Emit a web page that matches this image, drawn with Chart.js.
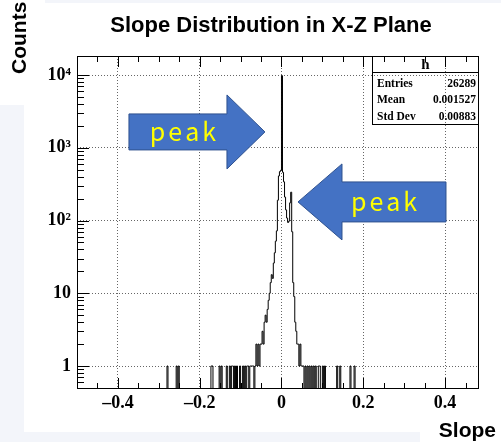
<!DOCTYPE html>
<html>
<head>
<meta charset="utf-8">
<title>Slope Distribution in X-Z Plane</title>
<script src="https://cdn.jsdelivr.net/npm/chart.js@4.4.1/dist/chart.umd.min.js"></script>
<style>
  html, body { margin: 0; padding: 0; background: #fff; }
  #wrap { position: relative; width: 501px; height: 442px; overflow: hidden; }
  .shade { position: absolute; background: #f3f5fa; }
  #c { position: absolute; left: 0; top: 0; }
</style>
</head>
<body>
<div id="wrap">
  <div class="shade" style="left:0;top:105px;width:24px;height:337px"></div>
  <div class="shade" style="left:0;top:432px;width:420px;height:10px"></div>
  <div class="shade" style="left:45px;top:0;width:456px;height:3px"></div>
  <canvas id="c" width="501" height="442"></canvas>
</div>
<script>
// histogram h: 400 bins of 0.0025 over [-0.5, 0.5]
var binWidth = 0.0025
  , binLo = -0.5
  , binHi = 0.5

// non-empty bins (bin centre, entries)
var binCenters = [
  -0.27875, -0.25625, -0.25125, -0.17125, -0.16875, -0.15125, -0.14625, -0.13375,
  -0.12625, -0.12125, -0.11875, -0.11375, -0.10875, -0.10125, -0.09375, -0.08875,
  -0.08375, -0.08125, -0.07625, -0.07375, -0.07125, -0.06875, -0.06375,
  -0.06125, -0.05875, -0.05625, -0.05375, -0.05125, -0.04875, -0.04625, -0.04375,
  -0.04125, -0.03875, -0.03625, -0.03375, -0.03125, -0.02875, -0.02625, -0.02375,
  -0.02125, -0.01875, -0.01625, -0.01375, -0.01125, -0.00875, -0.00625, -0.00375,
  -0.00125, 0.00125, 0.00375, 0.00625, 0.00875, 0.01125, 0.01375, 0.01625,
  0.01875, 0.02125, 0.02375, 0.02625, 0.02875, 0.03125, 0.03375, 0.03625,
  0.03875, 0.04125, 0.04375, 0.04625, 0.04875,
  0.05125, 0.05375, 0.05875, 0.06375, 0.06875, 0.07375, 0.07875, 0.08375,
  0.09125, 0.09375, 0.10125, 0.10625, 0.13625, 0.14375, 0.16875, 0.17875
]
var binCounts = [
  1, 1, 1, 1, 1, 1, 1, 1,
  1, 1, 1, 1, 1, 1, 1, 1,
  1, 1, 1, 1, 1, 1, 1,
  2, 1, 2, 1, 2, 2, 3, 2,
  4, 5, 4, 6, 8, 10, 14, 18,
  16, 26, 36, 52, 72, 190, 410, 470,
  490, 9800, 460, 340, 210, 140, 108, 94,
  98, 175, 245, 70, 14, 9, 4, 3,
  2, 2, 1, 2, 1,
  1, 1, 1, 1, 1, 1, 1, 1,
  1, 1, 1, 1, 1, 1, 1, 1
]

var xTicks = [-0.4, -0.2, 0, 0.2, 0.4]
var xTickLabels = ['\u20130.4', '\u20130.2', '0', '0.2', '0.4']
var yTicks = [1, 10, 100, 1000, 10000]
var yTickLabels = ['1', '10', '10\u00b2', '10\u00b3', '10\u2074']

var statNames = ['Entries', 'Mean', 'Std Dev']
var statValues = ['26289', '0.001527', '0.00883']

var xMin = -0.5, xMax = 0.483
var yMin = 0.483, yMax = 18250

// arrows pointing at the two peaks, tip given in axis units
var peakArrows = [
  { x: -0.0404, y: 1650, dir: 1, len: 136, head: 38, headHalf: 37, bodyHalf: 18, textAt: 82 },
  { x: 0.0404, y: 180, dir: -1, len: 148, head: 44, headHalf: 38, bodyHalf: 20, textAt: 86 }
]

var serif = '"Liberation Serif", "Times New Roman", serif'
var sans = '"Liberation Sans", Arial, sans-serif'

function histSteps() {
  var n = Math.round((binHi - binLo) / binWidth)
    , filled = new Array(n).fill(0)
    , pts = []
  binCenters.forEach(function (c, i) {
    filled[Math.floor((c - binLo) / binWidth)] = binCounts[i]
  })
  for (var i = 0; i < n; i++)
    pts.push({ x: binLo + i * binWidth, y: filled[i] || yMin })
  pts.push({ x: binHi, y: yMin })
  return pts
}

// centred text with extra space between letters
function spacedText(ctx, str, cx, cy, gap) {
  var widths = str.split('').map(function (ch) { return ctx.measureText(ch).width })
    , total = widths.reduce(function (s, w) { return s + w }, 0) + gap * (str.length - 1)
    , x = cx - total / 2
  ctx.textAlign = 'left'
  ctx.textBaseline = 'middle'
  for (var i = 0; i < str.length; i++) {
    ctx.fillText(str[i], x, cy)
    x += widths[i] + gap
  }
}

function drawArrow(ctx, a, tx, ty) {
  var d = a.dir
  ctx.beginPath()
  ctx.moveTo(tx - d * a.len, ty - a.bodyHalf)
  ctx.lineTo(tx - d * a.head, ty - a.bodyHalf)
  ctx.lineTo(tx - d * a.head, ty - a.headHalf)
  ctx.lineTo(tx, ty)
  ctx.lineTo(tx - d * a.head, ty + a.headHalf)
  ctx.lineTo(tx - d * a.head, ty + a.bodyHalf)
  ctx.lineTo(tx - d * a.len, ty + a.bodyHalf)
  ctx.closePath()
  ctx.fillStyle = '#4472c4'
  ctx.fill()
  ctx.strokeStyle = '#2f528f'
  ctx.lineWidth = 1
  ctx.stroke()
  ctx.fillStyle = '#ffff00'
  ctx.font = '25px "Noto Sans CJK JP", "Noto Sans", sans-serif'
  spacedText(ctx, 'peak', tx - d * a.textAt, ty, 3)
}

// frame, inner tick marks, stat box
var framePlugin = {
  id: 'frame',
  afterDatasetsDraw: function (chart) {
    var ctx = chart.ctx
      , a = chart.chartArea
      , xs = chart.scales.x
      , ys = chart.scales.y
    ctx.save()
    ctx.strokeStyle = '#000'
    ctx.lineWidth = 1
    ctx.strokeRect(a.left + .5, a.top + .5, a.right - a.left - 1, a.bottom - a.top - 1)

    ctx.beginPath()
    for (var k = -10; k <= 10; k++) {
      var v = k * 0.05
      if (v < xMin || v > xMax) continue
      var px = Math.round(xs.getPixelForValue(v)) + .5
      if (px <= a.left + 1 || px >= a.right - 1) continue
      var len = k % 4 === 0 ? 11 : 6
      ctx.moveTo(px, a.bottom); ctx.lineTo(px, a.bottom - len)
      ctx.moveTo(px, a.top); ctx.lineTo(px, a.top + len)
    }
    for (var d = -1; d <= 4; d++) {
      for (var m = 1; m <= 9; m++) {
        var val = m * Math.pow(10, d)
        if (val < yMin || val > yMax) continue
        var py = Math.round(ys.getPixelForValue(val)) + .5
        var l = m === 1 ? 12 : 7
        ctx.moveTo(a.left, py); ctx.lineTo(a.left + l, py)
      }
    }
    ctx.stroke()

    // stat box
    var bx = a.right - 107, by = a.top, bw = 107, bh = 68
    ctx.strokeRect(Math.round(bx) + .5, by + .5, bw - 1, bh)
    ctx.beginPath()
    ctx.moveTo(bx, by + 16.5); ctx.lineTo(bx + bw, by + 16.5)
    ctx.stroke()
    ctx.fillStyle = '#000'
    ctx.textBaseline = 'alphabetic'
    ctx.textAlign = 'center'
    ctx.font = 'bold 15px ' + serif
    ctx.fillText('h', bx + bw / 2, by + 13)
    ctx.font = 'bold 11.5px ' + serif
    for (var i = 0; i < statNames.length; i++) {
      var ry = by + 30.5 + i * 16.5
      ctx.textAlign = 'left'
      ctx.fillText(statNames[i], bx + 5, ry)
      ctx.textAlign = 'right'
      ctx.fillText(statValues[i], bx + bw - 3, ry)
    }
    ctx.restore()
  },
  afterDraw: function (chart) {
    var ctx = chart.ctx
      , xs = chart.scales.x
      , ys = chart.scales.y
    ctx.save()
    ctx.fillStyle = '#000'
    ctx.font = 'bold 22px ' + sans
    ctx.textAlign = 'center'
    ctx.textBaseline = 'alphabetic'
    ctx.fillText('Slope Distribution in X-Z Plane', 271, 32)

    ctx.font = 'bold 21px ' + sans
    ctx.textAlign = 'right'
    ctx.fillText('Slope', 496, 437)

    ctx.translate(26, 74)
    ctx.rotate(-Math.PI / 2)
    ctx.textAlign = 'left'
    ctx.fillText('Counts', 0, 0)
    ctx.restore()

    ctx.save()
    peakArrows.forEach(function (p) {
      drawArrow(ctx, p, xs.getPixelForValue(p.x), ys.getPixelForValue(p.y))
    })
    ctx.restore()
  }
}

new Chart(document.getElementById('c'), {
  type: 'line',
  data: {
    datasets: [{
      data: histSteps(),
      stepped: true,
      borderColor: '#000',
      borderWidth: 1,
      pointRadius: 0,
      fill: false
    }]
  },
  options: {
    responsive: false,
    animation: false,
    layout: { padding: { left: 0, top: 56, right: 22, bottom: 0 } },
    plugins: {
      legend: { display: false },
      tooltip: { enabled: false },
      title: { display: false }
    },
    scales: {
      x: {
        type: 'linear',
        min: xMin,
        max: xMax,
        afterFit: function (s) { s.height = 53 },
        afterBuildTicks: function (s) {
          s.ticks = xTicks.map(function (v) { return { value: v } })
        },
        grid: { color: '#666', drawTicks: false },
        border: { display: false, dash: [1, 2] },
        ticks: {
          padding: 4,
          color: '#000',
          maxRotation: 0,
          autoSkip: false,
          font: { family: serif, size: 18, weight: 'bold' },
          callback: function (v, i) { return xTickLabels[i] }
        }
      },
      y: {
        type: 'logarithmic',
        min: yMin,
        max: yMax,
        afterFit: function (s) { s.width = 77 },
        afterBuildTicks: function (s) {
          s.ticks = yTicks.map(function (v) { return { value: v } })
        },
        grid: { color: '#666', drawTicks: false },
        border: { display: false, dash: [1, 2] },
        ticks: {
          padding: 6,
          color: '#000',
          autoSkip: false,
          font: { family: serif, size: 18, weight: 'bold' },
          callback: function (v, i) { return yTickLabels[i] }
        }
      }
    }
  },
  plugins: [framePlugin]
})
</script>
</body>
</html>
